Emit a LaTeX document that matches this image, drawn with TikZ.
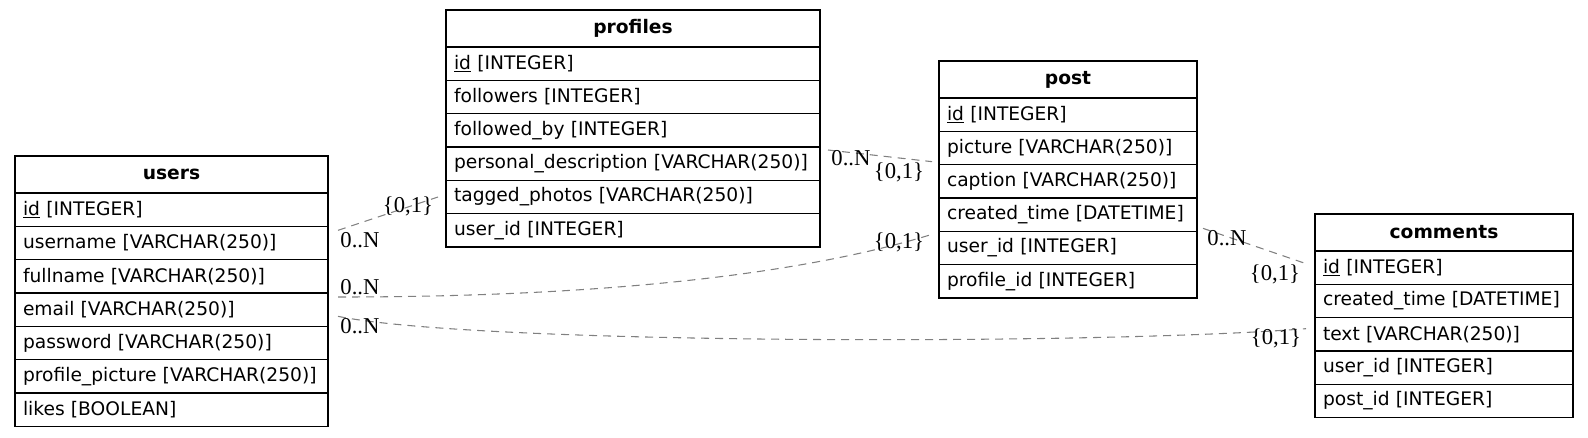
\documentclass[tikz,border=0pt]{standalone}
\usepackage{fontspec}
\setmainfont{DejaVu Sans}
\newfontfamily\cardfont{Liberation Serif}
\usetikzlibrary{positioning}

\begin{document}
\begin{tikzpicture}[
  x=0.75pt, y=-0.75pt,
  node distance=0pt,
  cell/.style={rectangle, draw=black, line width=0.8pt, inner xsep=6pt,
               inner ysep=0pt, outer sep=0pt},
  head/.style={cell, minimum height=27.75pt, align=center,
               font=\fontsize{14pt}{16pt}\selectfont\bfseries},
  field/.style={cell, minimum height=25pt, align=left,
                font=\fontsize{14pt}{16pt}\selectfont},
  userw/.style={text width=222.75pt},
  profw/.style={text width=268.5pt},
  postw/.style={text width=181.5pt},
  link/.style={draw=black!50, line width=0.8pt, dash pattern=on 6pt off 4.5pt},
  card/.style={inner sep=0pt, font=\cardfont\fontsize{17pt}{19pt}\selectfont}
]
\useasboundingbox (0,0) rectangle (1588,437);

% users
\node[head, userw, anchor=north west] (users) at (15,156) {users};
\node[field, userw, below=of users] (users-id) {\underline{id} [INTEGER]};
\node[field, userw, below=of users-id] (users-username) {username [VARCHAR(250)]};
\node[field, userw, below=of users-username] (users-fullname) {fullname [VARCHAR(250)]};
\node[field, userw, below=of users-fullname] (users-email) {email [VARCHAR(250)]};
\node[field, userw, below=of users-email] (users-password) {password [VARCHAR(250)]};
\node[field, userw, below=of users-password] (users-picture) {profile\_picture [VARCHAR(250)]};
\node[field, userw, below=of users-picture] (users-likes) {likes [BOOLEAN]};

% profiles
\node[head, profw, anchor=north west] (profiles) at (446,10) {profiles};
\node[field, profw, below=of profiles] (profiles-id) {\underline{id} [INTEGER]};
\node[field, profw, below=of profiles-id] (profiles-followers) {followers [INTEGER]};
\node[field, profw, below=of profiles-followers] (profiles-followed) {followed\_by [INTEGER]};
\node[field, profw, below=of profiles-followed] (profiles-personal) {personal\_description [VARCHAR(250)]};
\node[field, profw, below=of profiles-personal] (profiles-tagged) {tagged\_photos [VARCHAR(250)]};
\node[field, profw, below=of profiles-tagged] (profiles-userid) {user\_id [INTEGER]};

% post
\node[head, postw, anchor=north west] (post) at (939,61) {post};
\node[field, postw, below=of post] (post-id) {\underline{id} [INTEGER]};
\node[field, postw, below=of post-id] (post-picture) {picture [VARCHAR(250)]};
\node[field, postw, below=of post-picture] (post-caption) {caption [VARCHAR(250)]};
\node[field, postw, below=of post-caption] (post-created) {created\_time [DATETIME]};
\node[field, postw, below=of post-created] (post-userid) {user\_id [INTEGER]};
\node[field, postw, below=of post-userid] (post-profileid) {profile\_id [INTEGER]};

% comments
\node[head, postw, anchor=north west] (comments) at (1315,214) {comments};
\node[field, postw, below=of comments] (comments-id) {\underline{id} [INTEGER]};
\node[field, postw, below=of comments-id] (comments-created) {created\_time [DATETIME]};
\node[field, postw, below=of comments-created] (comments-text) {text [VARCHAR(250)]};
\node[field, postw, below=of comments-text] (comments-userid) {user\_id [INTEGER]};
\node[field, postw, below=of comments-userid] (comments-postid) {post\_id [INTEGER]};

% relations
\draw[link] ([shift={(10,4)}]users-username.north east) -- ([shift={(-8,0)}]profiles-tagged.west);
\draw[link] ([shift={(8,3)}]profiles-personal.north east) -- ([shift={(-7,-3)}]post-caption.north west);
\draw[link] ([shift={(10,4)}]users-email.north east) .. controls (600,297) and (800,275) .. ([shift={(-7,3)}]post-userid.north west);
\draw[link] ([shift={(10,-10)}]users-email.south east) .. controls (480,345) and (1100,345) .. ([shift={(-9,11)}]comments-text.north west);
\draw[link] ([shift={(6,-3)}]post-created.south east) -- ([shift={(-9,-4)}]comments-id.west);

% cardinalities
\node[card] (c1a) at (360,240) {0..N};
\node[card] (c1b) at (408,206) {\{0,1\}};
\node[card] (c2a) at (851,158) {0..N};
\node[card] (c2b) at (899,172) {\{0,1\}};
\node[card] (c3a) at (360,287) {0..N};
\node[card] (c3b) at (899,242) {\{0,1\}};
\node[card] (c4a) at (360,326) {0..N};
\node[card] (c4b) at (1276,338) {\{0,1\}};
\node[card] (c5a) at (1227,238) {0..N};
\node[card] (c5b) at (1275,274) {\{0,1\}};

\end{tikzpicture}
\end{document}
